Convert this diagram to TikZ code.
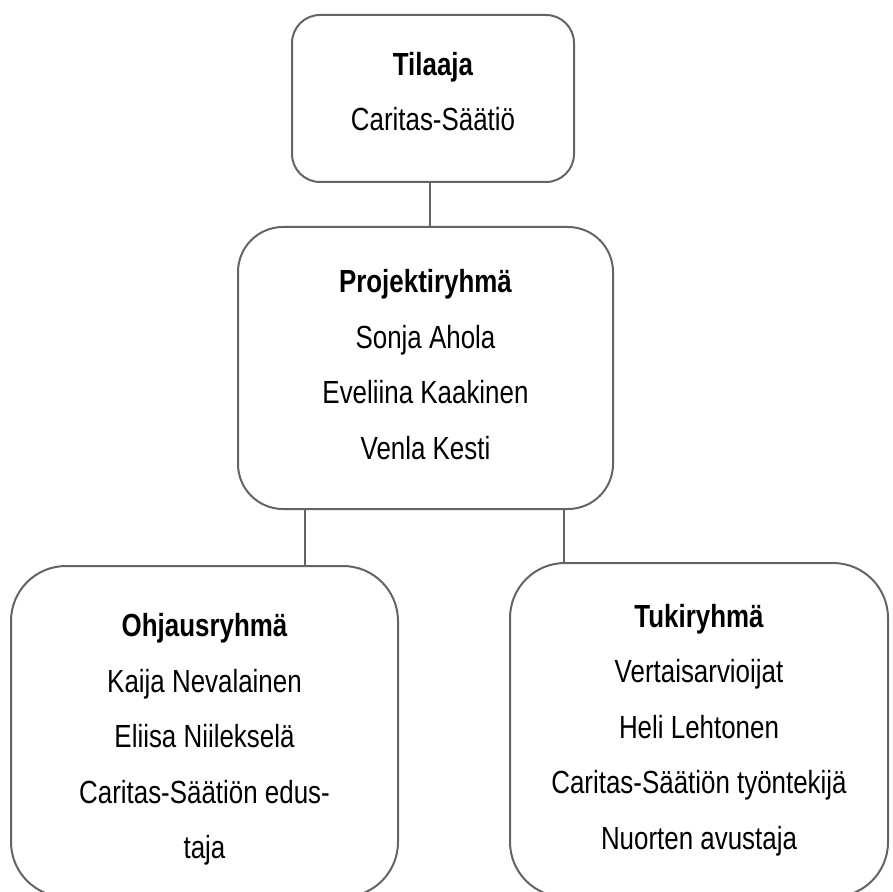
\documentclass[tikz,border=0pt]{standalone}
\usepackage{fontspec}
\setmainfont[FakeStretch=0.81]{Liberation Sans}
\definecolor{boxgray}{RGB}{100,100,100}
\tikzset{
  group/.style={draw=boxgray, line width=1pt, rounded corners=#1, align=center,
    inner sep=0pt, font=\fontsize{16}{27.75}\selectfont},
  link/.style={draw=boxgray, line width=1pt}
}

\begin{document}
\begin{tikzpicture}[x=0.5pt,y=-0.5pt]
    \clip (0,0) rectangle (892,892);
    \node[group=14pt, minimum width=141pt, minimum height=83.5pt] (tilaaja) at (433,98.5)
        {\textbf{Tilaaja}\\Caritas-Säätiö\rule[-7pt]{0pt}{0pt}};
    \node[group=22.5pt, minimum width=187.5pt, minimum height=141pt] (projekti) at (425.5,368)
        {\textbf{Projektiryhmä}\\Sonja Ahola\\Eveliina Kaakinen\\Venla Kesti\rule[-3.4pt]{0pt}{0pt}};
    \node[group=27.5pt, minimum width=193.5pt, minimum height=165.5pt] (ohjaus) at (204.5,731.5)
        {\rule{0pt}{19.7pt}\textbf{Ohjausryhmä}\\Kaija Nevalainen\\Eliisa Niilekselä\\Caritas-Säätiön edus-\\taja};
    \node[group=27.5pt, minimum width=189pt, minimum height=167pt] (tuki) at (699,730)
        {\textbf{Tukiryhmä}\\Vertaisarvioijat\\Heli Lehtonen\\Caritas-Säätiön työntekijä\\Nuorten avustaja};
    \draw[link] ([xshift=-1.5pt]tilaaja.south) -- ([xshift=-1.5pt]tilaaja.south |- projekti.north);
    \draw[link] ([xshift=-60.25pt]projekti.south) -- ([xshift=-60.25pt]projekti.south |- ohjaus.north);
    \draw[link] ([xshift=69.25pt]projekti.south) -- ([xshift=69.25pt]projekti.south |- tuki.north);
\end{tikzpicture}
\end{document}
